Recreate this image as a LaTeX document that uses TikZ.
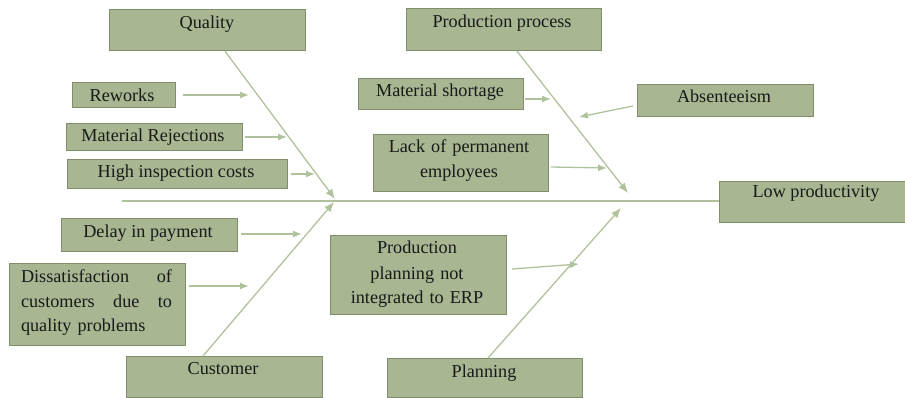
\documentclass[tikz,border=0pt]{standalone}
\usepackage{fontspec}
\setmainfont{Liberation Serif}
\usetikzlibrary{arrows.meta,calc}
\definecolor{boxfill}{RGB}{168,182,146}
\definecolor{boxedge}{RGB}{128,142,108}
\definecolor{bone}{RGB}{176,194,156}
\tikzset{
  box/.style={draw=boxedge, fill=boxfill, line width=1.2pt, inner sep=0pt, anchor=north west},
  lbl/.style={anchor=base, inner sep=0pt, font=\fontsize{18.2}{25}\selectfont, text=black!90},
  mlbl/.style={lbl, align=center, text width=170pt},
  spine/.style={draw=bone, line width=1.3pt, -{Latex[length=10pt,width=8pt]}},
  twig/.style={draw=bone, line width=1.3pt, -{Latex[length=9pt,width=7pt]}},
  axis/.style={draw=bone, line width=1.3pt}
}
\newcommand{\bx}[5]{\node[box, minimum width=#4-#2, minimum height=#5-#3] (#1) at (#2,#3) {};}
\begin{document}
\begin{tikzpicture}[x=1pt,y=-1pt]
\useasboundingbox (0,0) rectangle (905,398);

% category boxes
\bx{quality}{109}{9}{305}{50}
\bx{process}{406}{8}{601}{50}
\bx{customer}{126}{356}{322}{397}
\bx{planning}{387}{358}{582}{397}
\bx{effect}{719}{181}{905}{222}

% cause boxes
\bx{rework}{72}{82}{175}{107}
\bx{reject}{66}{123}{242}{150}
\bx{inspect}{67}{159}{287}{188}
\bx{shortage}{358}{78}{523}{109}
\bx{absent}{637}{84}{813}{116}
\bx{lack}{373}{134}{548}{191}
\bx{delay}{61}{218}{237}{251}
\bx{dissat}{9}{263}{185}{345}
\bx{erp}{330}{235}{506}{314}

% labels
\node[lbl] (tq) at (207,29) {Quality};
\node[lbl] (tp) at (502,28) {Production process};
\node[lbl] (tc) at (223,374) {Customer};
\node[lbl] (tl) at (484,377) {Planning};
\node[lbl] (te) at (816,198) {Low productivity};
\node[lbl] (t1) at (122,102) {Reworks};
\node[lbl] (t2) at (153,142) {Material Rejections};
\node[lbl] (t3) at (176,178) {High inspection costs};
\node[lbl] (t4) at (440,97) {Material shortage};
\node[lbl] (t5) at (724,103) {Absenteeism};
\node[mlbl] (t6) at (459,153) {Lack of permanent\\employees};
\node[lbl] (t7) at (148,238) {Delay in payment};
\node[lbl, align=left, text width=151pt] (t8) at (96.5,282)
  {Dissatisfaction\hfill of\\customers\hfill due\hfill to\\quality problems};
\node[mlbl] (t9) at (417,254) {Production\\planning not\\integrated to ERP};

% backbone and rib end points
\coordinate (qend) at (335,199);
\coordinate (pend) at (628,193);
\coordinate (cend) at (334,202);
\coordinate (lend) at (621,208);
\coordinate (tail) at (122,201);
\draw[axis] (tail) -- (effect.west |- tail);

\draw[spine] ([xshift=116pt]quality.south west) -- (qend);
\draw[spine] ([xshift=111pt]process.south west) -- (pend);
\draw[spine] ([xshift=77pt]customer.north west) -- (cend);
\draw[spine] ([xshift=101pt]planning.north west) -- (lend);

% cause arrows
\coordinate (a1) at (249,95);
\coordinate (a2) at (287,137);
\coordinate (a3) at (315,174);
\coordinate (a4) at (551,99);
\coordinate (a5) at (579,117);
\coordinate (a6) at (607,168);
\coordinate (a7) at (302,234);
\coordinate (a8) at (249,286);
\coordinate (a9) at (579,264);
\draw[twig] ([xshift=7pt]rework.east |- a1) -- (a1);
\draw[twig] ([xshift=2pt]reject.east |- a2) -- (a2);
\draw[twig] ([xshift=3pt]inspect.east |- a3) -- (a3);
\draw[twig] ([xshift=1pt]shortage.east |- a4) -- (a4);
\draw[twig] ([xshift=-4pt,yshift=-3pt]absent.west |- 0,103) -- (a5);
\draw[twig] ([xshift=2pt]lack.east |- 0,167) -- (a6);
\draw[twig] ([xshift=3pt]delay.east |- a7) -- (a7);
\draw[twig] ([xshift=3pt]dissat.east |- a8) -- (a8);
\draw[twig] ([xshift=5pt]erp.east |- 0,269) -- (a9);
\end{tikzpicture}
\end{document}
